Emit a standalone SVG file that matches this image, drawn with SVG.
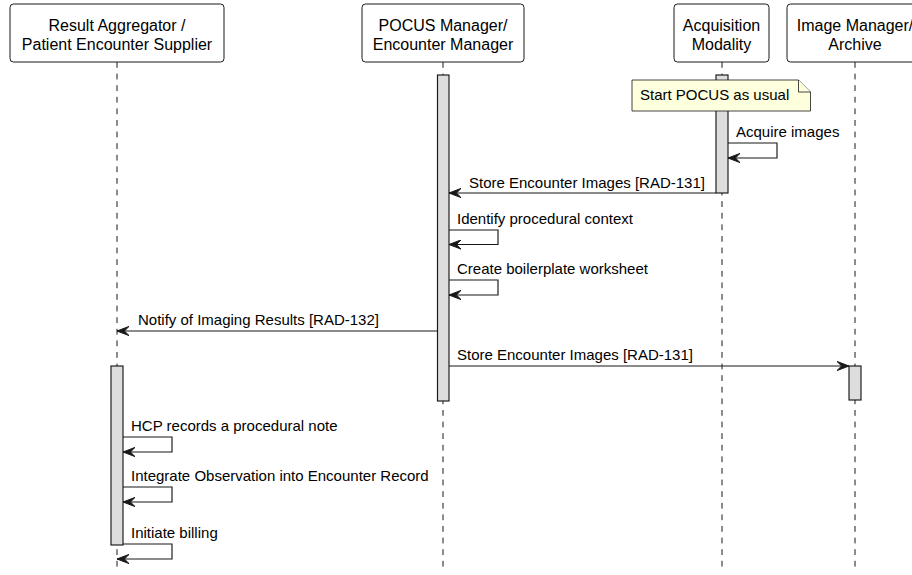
<svg xmlns="http://www.w3.org/2000/svg" width="912" height="575" viewBox="0 0 912 575">
  <defs>
    <style>
      text { font-family: "Liberation Sans", Arial, sans-serif; fill: #000000; }
      .pname { font-size: 16px; text-anchor: middle; }
      .msg { font-size: 15px; }
      .box { fill: #FFFFFF; stroke: #181818; stroke-width: 1; }
      .life { stroke: #181818; stroke-width: 1; stroke-dasharray: 5.8 5.8; fill: none; }
      .act { fill: #DDDDDD; stroke: #181818; stroke-width: 1.15; }
      .arrow { stroke: #181818; stroke-width: 1.15; fill: none; marker-end: url(#head); }
      .note { fill: #FEFFDD; stroke: #181818; stroke-width: 0.8; }
    </style>
    <marker id="head" viewBox="0 0 12 10" refX="12" refY="5" markerWidth="12" markerHeight="10" markerUnits="userSpaceOnUse" orient="auto">
      <path d="M12,5 L0,0.4 L4.6,5 L0,9.6 Z" fill="#181818" stroke="#181818" stroke-width="1"/>
    </marker>
  </defs>

  <rect width="912" height="575" fill="#FFFFFF"/>

  <!-- lifelines -->
  <g id="lifelines">
    <line class="life" x1="117" y1="62" x2="117" y2="572"/>
    <line class="life" x1="443" y1="62" x2="443" y2="572"/>
    <line class="life" x1="722" y1="62" x2="722" y2="572"/>
    <line class="life" x1="855" y1="62" x2="855" y2="572"/>
  </g>

  <!-- participants -->
  <g id="result-aggregator">
    <rect class="box" x="10" y="4" width="214" height="58" rx="3.5"/>
    <text class="pname" x="117" y="30.5">Result Aggregator /</text>
    <text class="pname" x="117" y="49.5">Patient Encounter Supplier</text>
    <rect class="act" x="111" y="366" width="12" height="179"/>
  </g>

  <g id="pocus-manager">
    <rect class="box" x="362" y="4" width="162" height="58" rx="3.5"/>
    <text class="pname" x="443" y="30.5">POCUS Manager/</text>
    <text class="pname" x="443" y="49.5">Encounter Manager</text>
    <rect class="act" x="437.5" y="75" width="11.5" height="326"/>
  </g>

  <g id="acquisition-modality">
    <rect class="box" x="674" y="4" width="95" height="58" rx="3.5"/>
    <text class="pname" x="721.5" y="30.5">Acquisition</text>
    <text class="pname" x="721.5" y="49.5">Modality</text>
    <rect class="act" x="716" y="75" width="12" height="118"/>
  </g>

  <g id="image-manager">
    <rect class="box" x="787" y="4" width="136" height="58" rx="3.5"/>
    <text class="pname" x="855" y="30.5">Image Manager/</text>
    <text class="pname" x="855" y="49.5">Archive</text>
    <rect class="act" x="849" y="366" width="12" height="34"/>
  </g>

  <!-- note -->
  <g id="note-start">
    <path class="note" d="M632,80 L798.5,80 L810.5,92 L810.5,111 L632,111 Z"/>
    <path class="note" d="M798.5,80 L798.5,92 L810.5,92"/>
    <text class="msg" x="640" y="100">Start POCUS as usual</text>
  </g>

  <!-- messages -->
  <g id="connectors">
    <path class="arrow" d="M728,143 L777,143 L777,158 L728,158"/>
    <text class="msg" x="736" y="137">Acquire images</text>

    <path class="arrow" d="M716,193 L449,193"/>
    <text class="msg" x="469" y="188">Store Encounter Images [RAD-131]</text>

    <path class="arrow" d="M449,230 L498,230 L498,244.5 L449,244.5"/>
    <text class="msg" x="457" y="223.5">Identify procedural context</text>

    <path class="arrow" d="M449,280 L498,280 L498,295 L449,295"/>
    <text class="msg" x="457" y="273.5">Create boilerplate worksheet</text>

    <path class="arrow" d="M437.5,331 L117,331"/>
    <text class="msg" x="138" y="324.5">Notify of Imaging Results [RAD-132]</text>

    <path class="arrow" d="M449,366 L849,366"/>
    <text class="msg" x="457" y="360">Store Encounter Images [RAD-131]</text>

    <path class="arrow" d="M123,437 L172,437 L172,452 L123,452"/>
    <text class="msg" x="131" y="430.5">HCP records a procedural note</text>

    <path class="arrow" d="M123,487 L172,487 L172,502 L123,502"/>
    <text class="msg" x="131" y="481">Integrate Observation into Encounter Record</text>

    <path class="arrow" d="M123,544 L172,544 L172,559 L117,559"/>
    <text class="msg" x="131" y="537.5">Initiate billing</text>
  </g>
</svg>
